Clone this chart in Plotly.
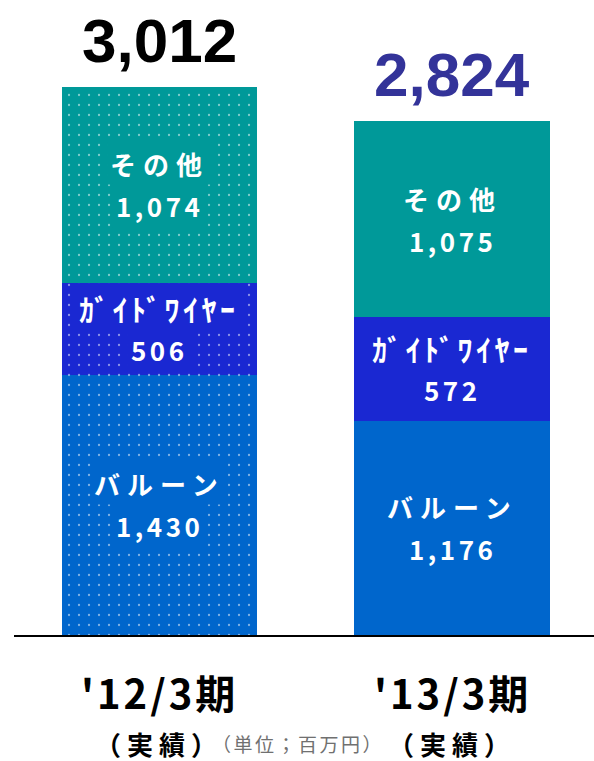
import plotly.graph_objects as go

periods = ["'12/3期", "'13/3期"]
sub_labels = ["（実績）", "（実績）"]
segments = ["バルーン", "ｶﾞｲﾄﾞﾜｲﾔｰ", "その他"]
balloon = [1430, 1176]
guidewire = [506, 572]
other = [1074, 1075]
totals = [3012, 2824]
unit_note = "（単位；百万円）"

series = [balloon, guidewire, other]
colors = ["#0066CC", "#1A28D2", "#009999"]
total_colors = ["#000000", "#333399"]
name_spacing = [7, 3.5, 7]
name_sizes = [26, 30, 26]

JP = "Noto Sans CJK JP"
xs = [0, 1]


def spaced(text, px, bold=True):
    t = f"<b>{text}</b>" if bold else text
    return f'<span style="letter-spacing:{px}px">{t}</span>'


fig = go.Figure()
for name, vals, col in zip(segments, series, colors):
    fig.add_trace(go.Bar(
        x=xs, y=vals, name=name,
        marker=dict(color=col, line=dict(width=0),
                    pattern=dict(shape=[".", ""], fgcolor="white", size=10, solidity=0.04)),
        hoverinfo="skip", showlegend=False,
    ))

annotations = []
for i in xs:
    base = 0
    for name, vals, col, sp, fs in zip(segments, series, colors, name_spacing, name_sizes):
        v = vals[i]
        mid = base + v / 2
        bg = col if i == 0 else "rgba(0,0,0,0)"
        annotations.append(dict(x=i, y=mid, xref="x", yref="y", text=spaced(name, sp),
                                showarrow=False, yshift=21, bgcolor=bg, borderpad=2,
                                font=dict(family=JP, size=fs, color="white")))
        annotations.append(dict(x=i, y=mid, xref="x", yref="y", text=spaced(f"{v:,}", 3.5),
                                showarrow=False, yshift=-21, bgcolor=bg, borderpad=3,
                                font=dict(family=JP, size=26, color="white")))
        base += v
    annotations.append(dict(x=i, y=totals[i], xref="x", yref="y", text=f"<b>{totals[i]:,}</b>",
                            showarrow=False, yanchor="bottom", yshift=10,
                            font=dict(family="Liberation Sans", size=62, color=total_colors[i])))
    annotations.append(dict(x=i, y=-0.093, xref="x", yref="paper", text=spaced(periods[i], 3),
                            showarrow=False, yanchor="middle",
                            font=dict(family=JP, size=40, color="black")))
    annotations.append(dict(x=i, y=-0.176, xref="x", yref="paper", text=spaced(sub_labels[i], 6),
                            showarrow=False, yanchor="middle",
                            font=dict(family=JP, size=26, color="black")))

annotations.append(dict(x=0.49, y=-0.176, xref="paper", yref="paper",
                        text=spaced(unit_note, 2.5, bold=False),
                        showarrow=False, yanchor="middle",
                        font=dict(family=JP, size=19, color="#707070")))

fig.update_layout(
    width=594, height=761,
    margin=dict(l=14, r=0, t=20, b=126),
    paper_bgcolor="white", plot_bgcolor="white",
    barmode="stack", bargap=0.333,
    xaxis=dict(range=[-0.497, 1.485], showline=True, linecolor="black", linewidth=2,
               showticklabels=False, ticks="", showgrid=False, zeroline=False, fixedrange=True),
    yaxis=dict(range=[0, 3379], visible=False, showgrid=False, zeroline=False, fixedrange=True),
    annotations=annotations,
)

fig.write_html("out.html", config={"displayModeBar": False},
               post_script="document.body.style.margin='0';")
